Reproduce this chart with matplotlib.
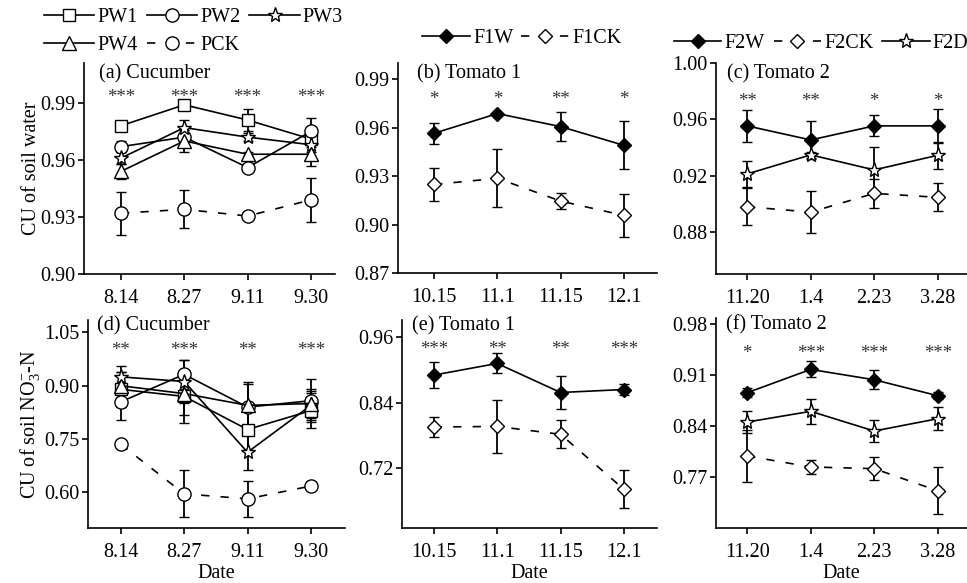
import numpy as np
from matplotlib import pyplot as plt
from matplotlib import transforms

plt.rcParams['font.family'] = ['Liberation Serif', 'DejaVu Serif']
plt.rcParams['mathtext.fontset'] = 'custom'
plt.rcParams['mathtext.rm'] = 'Liberation Serif'
plt.rcParams['mathtext.it'] = 'Liberation Serif:italic'
plt.rcParams['lines.scale_dashes'] = False

FS = 14.5

# dates on the x axes
datesCuc = ['8.14', '8.27', '9.11', '9.30']
datesTom1 = ['10.15', '11.1', '11.15', '12.1']
datesTom2 = ['11.20', '1.4', '2.23', '3.28']

# (a) CU of soil water, cucumber
pw1W = [0.978, 0.989, 0.981, 0.971]
pw1WErr = [0.001, 0.001, 0.006, 0.004]
pw2W = [0.967, 0.972, 0.956, 0.975]
pw2WErr = [0.003, 0.004, 0.001, 0.007]
pw3W = [0.961, 0.977, 0.972, 0.968]
pw3WErr = [0.003, 0.004, 0.002, 0.004]
pw4W = [0.954, 0.970, 0.963, 0.963]
pw4WErr = [0.004, 0.006, 0.001, 0.006]
pckW = [0.932, 0.934, 0.9305, 0.939]
pckWErr = [0.0114, 0.010, 0.001, 0.0114]

# (b) tomato 1 water
f1wW = [0.9565, 0.9687, 0.9606, 0.949]
f1wWErr = [0.0064, 0.001, 0.009, 0.0148]
f1ckW = [0.9248, 0.9286, 0.9145, 0.9056]
f1ckWErr = [0.0103, 0.0179, 0.005, 0.0134]

# (c) tomato 2 water
f2wW = [0.9553, 0.9453, 0.9553, 0.9553]
f2wWErr = [0.0113, 0.0138, 0.0074, 0.012]
f2ckW = [0.8978, 0.894, 0.9073, 0.9045]
f2ckWErr = [0.0133, 0.0152, 0.0105, 0.010]
f2dW = [0.9211, 0.9347, 0.924, 0.9344]
f2dWErr = [0.009, 0.002, 0.0166, 0.0097]

# (d) CU of soil NO3-N, cucumber
pw1N = [0.890, 0.870, 0.777, 0.830]
pw1NErr = [0.05, 0.075, 0.06, 0.05]
pw2N = [0.855, 0.932, 0.840, 0.858]
pw2NErr = [0.05, 0.04, 0.07, 0.06]
pw3N = [0.925, 0.912, 0.713, 0.845]
pw3NErr = [0.03, 0.06, 0.05, 0.04]
pw4N = [0.900, 0.878, 0.845, 0.850]
pw4NErr = [0.04, 0.06, 0.06, 0.04]
pckN = [0.735, 0.596, 0.582, 0.618]
pckNErr = [0.01, 0.066, 0.05, 0.01]

# (e) tomato 1 nitrate
f1wN = [0.8905, 0.912, 0.8585, 0.864]
f1wNErr = [0.024, 0.0185, 0.031, 0.011]
f1ckN = [0.795, 0.796, 0.7815, 0.68]
f1ckNErr = [0.019, 0.048, 0.026, 0.035]

# (f) tomato 2 nitrate
f2wN = [0.8855, 0.9175, 0.9033, 0.8814]
f2wNErr = [0.006, 0.011, 0.0128, 0.005]
f2ckN = [0.7988, 0.7837, 0.7814, 0.751]
f2ckNErr = [0.036, 0.009, 0.016, 0.032]
f2dN = [0.8453, 0.86, 0.833, 0.8499]
f2dNErr = [0.015, 0.017, 0.015, 0.0155]

# significance marks
sigA = ['***', '***', '***', '***']
sigB = ['*', '*', '**', '*']
sigC = ['**', '**', '*', '*']
sigD = ['**', '***', '**', '***']
sigE = ['***', '**', '**', '***']
sigF = ['*', '***', '***', '***']

W, H = 967, 583
fig = plt.figure(figsize=(W / 100, H / 100), dpi=100)


def addAxes(left, right, top, bottom):
    return fig.add_axes([left / W, 1 - bottom / H, (right - left) / W, (bottom - top) / H])


STYLES = {
    'PW1': dict(marker='s', ms=8.5, mfc='white', ls='-'),
    'PW2': dict(marker='o', ms=9.5, mfc='white', ls='-'),
    'PW3': dict(marker='*', ms=11, mfc='white', ls='-'),
    'PW4': dict(marker='^', ms=9.5, mfc='white', ls='-'),
    'PCK': dict(marker='o', ms=9.5, mfc='white', ls=(0, (6, 8))),
    'FW': dict(marker='D', ms=7.5, mfc='black', ls='-'),
    'FCK': dict(marker='D', ms=7.5, mfc='white', ls=(0, (6, 8))),
    'FD': dict(marker='*', ms=11, mfc='white', ls='-'),
}


def drawSeries(ax, vals, errs, style):
    x = np.arange(len(vals))
    st = STYLES[style]
    c = ax.errorbar(x, vals, yerr=errs, color='black', lw=1.2, elinewidth=1.3,
                    capsize=3.5, capthick=1.3, marker=st['marker'], ms=st['ms'],
                    mfc=st['mfc'], mec='black', mew=1.0, ls=st['ls'])
    return c[0]


def setupAxes(ax, dates, ylim, yticks, xlim, title, titleOff, sig, sigY, ylabel=None, xlabel=False):
    ax.set_xlim(xlim)
    ax.set_ylim(ylim)
    ax.set_xticks(np.arange(len(dates)))
    ax.set_xticklabels(dates)
    ax.set_yticks(yticks)
    ax.set_yticklabels(['%.2f' % t for t in yticks])
    for s in ['top', 'right']:
        ax.spines[s].set_visible(False)
    for s in ['left', 'bottom']:
        ax.spines[s].set_linewidth(1.2)
    ax.tick_params(direction='out', length=4.5, width=1.2, labelsize=FS)
    ax.tick_params(axis='y', pad=1.5)
    ax.tick_params(axis='x', pad=6.5)
    ax.text(titleOff[0], titleOff[1], title, transform=ax.transAxes, fontsize=FS,
            ha='left', va='center')
    # asterisks sit high in their text box, so nudge them down a little
    sigTrans = transforms.offset_copy(ax.transData, fig=fig, y=-5, units='dots')
    for i, s in enumerate(sig):
        ax.text(i, sigY, s, fontsize=FS - 1, ha='center', va='center', color='#333333',
                transform=sigTrans)
    if ylabel:
        ax.set_ylabel(ylabel, fontsize=FS)
    if xlabel:
        ax.set_xlabel('Date', fontsize=FS, labelpad=1.5)


# panel layout in pixels (left, right, top, bottom)
axA = addAxes(84, 335, 63, 274)
axB = addAxes(398, 657, 63, 273)
axC = addAxes(716, 967, 63, 274)
axD = addAxes(88, 345, 320, 528)
axE = addAxes(402, 657, 320, 528)
axF = addAxes(716, 967, 318, 528)

# (a)
hA = []
for vals, errs, st in [(pw1W, pw1WErr, 'PW1'), (pw2W, pw2WErr, 'PW2'), (pw3W, pw3WErr, 'PW3'),
                       (pw4W, pw4WErr, 'PW4'), (pckW, pckWErr, 'PCK')]:
    hA.append(drawSeries(axA, vals, errs, st))
setupAxes(axA, datesCuc, (0.90, 1.011), [0.90, 0.93, 0.96, 0.99], (-0.585, 3.38),
          '(a) Cucumber', (0.06, 0.95), sigA, 0.9953, ylabel='CU of soil water')

# (b)
hB = [drawSeries(axB, f1wW, f1wWErr, 'FW'), drawSeries(axB, f1ckW, f1ckWErr, 'FCK')]
setupAxes(axB, datesTom1, (0.87, 1.0), [0.87, 0.90, 0.93, 0.96, 0.99], (-0.57, 3.52),
          '(b) Tomato 1', (0.072, 0.95), sigB, 0.9806)

# (c)
hC = [drawSeries(axC, f2wW, f2wWErr, 'FW'), drawSeries(axC, f2ckW, f2ckWErr, 'FCK'),
      drawSeries(axC, f2dW, f2dWErr, 'FD')]
setupAxes(axC, datesTom2, (0.85, 1.0), [0.88, 0.92, 0.96, 1.00], (-0.49, 3.46),
          '(c) Tomato 2', (0.045, 0.95), sigC, 0.976)

# (d)
for vals, errs, st in [(pw1N, pw1NErr, 'PW1'), (pw2N, pw2NErr, 'PW2'), (pw3N, pw3NErr, 'PW3'),
                       (pw4N, pw4NErr, 'PW4'), (pckN, pckNErr, 'PCK')]:
    drawSeries(axD, vals, errs, st)
setupAxes(axD, datesCuc, (0.5, 1.085), [0.60, 0.75, 0.90, 1.05], (-0.52, 3.54),
          '(d) Cucumber', (0.035, 0.97), sigD, 1.014,
          ylabel=r'CU of soil NO$_3^{-}$-N', xlabel=True)

# (e)
drawSeries(axE, f1wN, f1wNErr, 'FW')
drawSeries(axE, f1ckN, f1ckNErr, 'FCK')
setupAxes(axE, datesTom1, (0.609, 0.992), [0.72, 0.84, 0.96], (-0.5, 3.52),
          '(e) Tomato 1', (0.04, 0.97), sigE, 0.947, xlabel=True)

# (f)
drawSeries(axF, f2wN, f2wNErr, 'FW')
drawSeries(axF, f2ckN, f2ckNErr, 'FCK')
drawSeries(axF, f2dN, f2dNErr, 'FD')
setupAxes(axF, datesTom2, (0.70, 0.988), [0.77, 0.84, 0.91, 0.98], (-0.49, 3.46),
          '(f) Tomato 2', (0.04, 0.97), sigF, 0.946, xlabel=True)

axA.yaxis.set_label_coords(-0.17, 0.5)
axD.yaxis.set_label_coords(-0.18, 0.5)

legKw = dict(frameon=False, fontsize=FS, handletextpad=0.15, borderpad=0,
             borderaxespad=0, labelspacing=0.45, loc='upper left')
# column-first ordering gives rows PW1 PW2 PW3 / PW4 PCK
fig.legend([hA[0], hA[3], hA[1], hA[4], hA[2]], ['PW1', 'PW4', 'PW2', 'PCK', 'PW3'],
           ncol=3, bbox_to_anchor=(44 / W, 1 - 8 / H), handlelength=2.5,
           columnspacing=0.45, **legKw)
fig.legend(hB, ['F1W', 'F1CK'], ncol=2, bbox_to_anchor=(422 / W, 1 - 29 / H),
           handlelength=2.4, columnspacing=0.35, **legKw)
fig.legend(hC, ['F2W', 'F2CK', 'F2D'], ncol=3, bbox_to_anchor=(674 / W, 1 - 34 / H),
           handlelength=2.35, columnspacing=0.45, **legKw)

fig.savefig('out.png', dpi=100)
